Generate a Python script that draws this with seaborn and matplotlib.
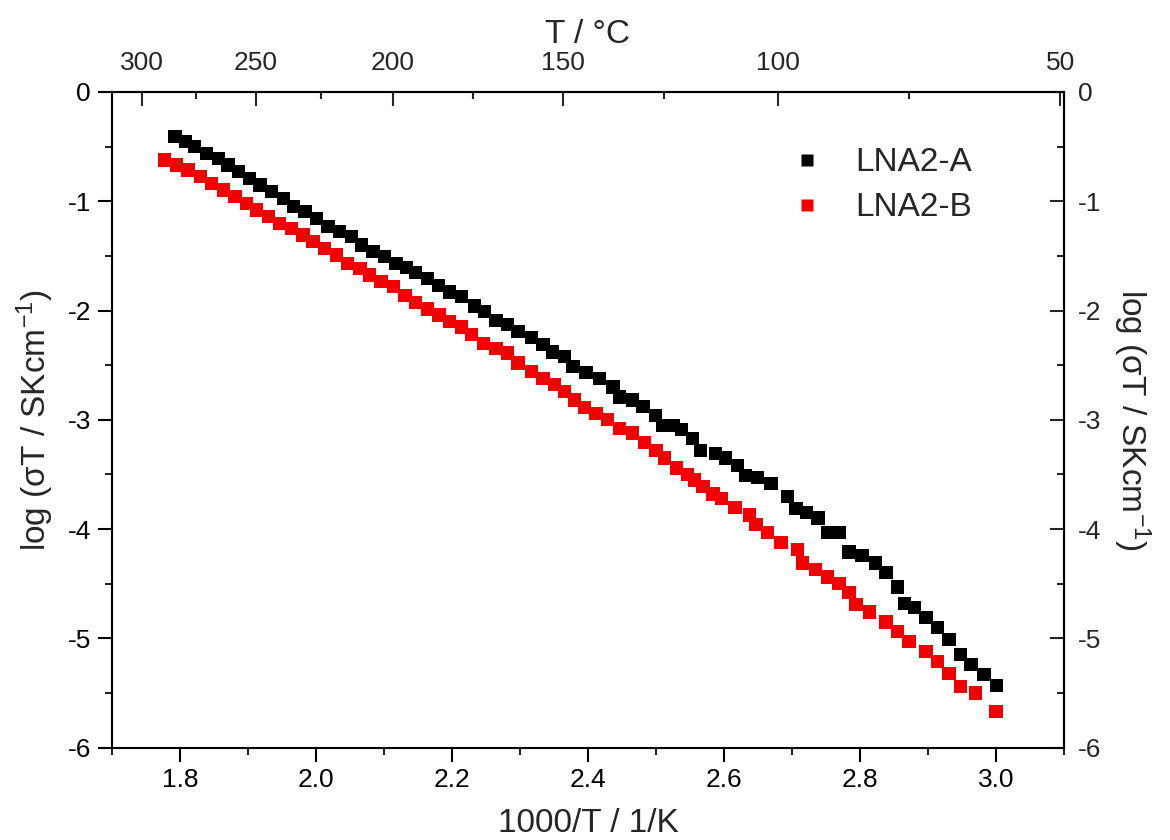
import matplotlib
matplotlib.use("Agg")
import matplotlib.pyplot as plt
from matplotlib.lines import Line2D
from matplotlib.ticker import MultipleLocator, FixedLocator, NullFormatter
import pandas as pd
import seaborn as sns

# Arrhenius data: 1000/T (1/K) and log(sigma*T / S K cm^-1)
inv_t_a = [1.793, 1.808, 1.822, 1.839, 1.857, 1.871, 1.886, 1.903, 1.918,
           1.935, 1.952, 1.967, 1.984, 2.001, 2.018, 2.035, 2.052, 2.067,
           2.084, 2.101, 2.118, 2.133, 2.147, 2.164, 2.180, 2.197, 2.214,
           2.233, 2.248, 2.265, 2.282, 2.297, 2.317, 2.334, 2.348, 2.366,
           2.378, 2.397, 2.417, 2.437, 2.446, 2.466, 2.481, 2.499, 2.510,
           2.525, 2.538, 2.554, 2.565, 2.588, 2.602, 2.620, 2.632, 2.649,
           2.669, 2.693, 2.706, 2.721, 2.738, 2.753, 2.770, 2.784, 2.803,
           2.823, 2.838, 2.855, 2.865, 2.880, 2.897, 2.914, 2.931, 2.948,
           2.963, 2.982, 3.001]
log_st_a = [-0.41, -0.455, -0.50, -0.56, -0.607, -0.668, -0.729, -0.79,
            -0.851, -0.912, -0.973, -1.049, -1.095, -1.156, -1.232, -1.278,
            -1.324, -1.40, -1.461, -1.507, -1.567, -1.605, -1.655, -1.705,
            -1.77, -1.83, -1.87, -1.96, -2.01, -2.09, -2.13, -2.19, -2.25,
            -2.31, -2.38, -2.42, -2.51, -2.57, -2.62, -2.70, -2.79, -2.82,
            -2.88, -2.96, -3.05, -3.05, -3.09, -3.17, -3.28, -3.31, -3.35,
            -3.42, -3.51, -3.53, -3.58, -3.70, -3.81, -3.85, -3.90, -4.03,
            -4.03, -4.21, -4.24, -4.31, -4.40, -4.53, -4.68, -4.72, -4.81,
            -4.90, -5.01, -5.15, -5.24, -5.33, -5.43]
inv_t_b = [1.778, 1.795, 1.812, 1.830, 1.847, 1.864, 1.881, 1.898, 1.913,
           1.930, 1.947, 1.964, 1.981, 1.996, 2.013, 2.030, 2.047, 2.065,
           2.079, 2.096, 2.114, 2.131, 2.147, 2.164, 2.181, 2.197, 2.214,
           2.229, 2.246, 2.265, 2.282, 2.297, 2.317, 2.334, 2.351, 2.366,
           2.380, 2.395, 2.412, 2.429, 2.446, 2.466, 2.483, 2.500, 2.513,
           2.530, 2.546, 2.557, 2.569, 2.584, 2.596, 2.616, 2.638, 2.647,
           2.664, 2.684, 2.708, 2.715, 2.735, 2.752, 2.769, 2.784, 2.794,
           2.814, 2.838, 2.855, 2.872, 2.897, 2.914, 2.931, 2.948, 2.970,
           3.000]
log_st_b = [-0.622, -0.668, -0.714, -0.775, -0.835, -0.897, -0.958, -1.018,
            -1.08, -1.141, -1.201, -1.247, -1.308, -1.37, -1.43, -1.491,
            -1.567, -1.613, -1.674, -1.735, -1.781, -1.865, -1.925, -1.985,
            -2.04, -2.10, -2.15, -2.22, -2.30, -2.35, -2.39, -2.48, -2.56,
            -2.62, -2.68, -2.74, -2.82, -2.89, -2.94, -3.00, -3.08, -3.12,
            -3.21, -3.28, -3.35, -3.44, -3.50, -3.55, -3.61, -3.68, -3.72,
            -3.80, -3.87, -3.96, -4.03, -4.12, -4.19, -4.31, -4.37, -4.44,
            -4.50, -4.58, -4.69, -4.76, -4.85, -4.94, -5.03, -5.12, -5.21,
            -5.32, -5.44, -5.50, -5.67]

series_names = ["LNA2-A", "LNA2-B"]
series_colors = ["#000000", "#f00000"]

celsius_major = [300, 250, 200, 150, 100, 50]
celsius_minor = [275, 225, 175, 125, 75]

sns.set_theme(style="ticks")
plt.rcParams["font.family"] = ["Liberation Sans", "DejaVu Sans"]
plt.rcParams["mathtext.fontset"] = "custom"
plt.rcParams["mathtext.rm"] = "Liberation Sans"
plt.rcParams["mathtext.it"] = "Liberation Sans"
plt.rcParams["axes.linewidth"] = 1.5

df = pd.concat([
    pd.DataFrame({"inv_t": inv_t_a, "log_st": log_st_a, "sample": series_names[0]}),
    pd.DataFrame({"inv_t": inv_t_b, "log_st": log_st_b, "sample": series_names[1]}),
], ignore_index=True)

fig = plt.figure(figsize=(11.7, 8.4), dpi=100)
ax = fig.add_axes([0.0955, 0.110, 0.8140, 0.7805])

sns.scatterplot(data=df, x="inv_t", y="log_st", hue="sample",
                palette=dict(zip(series_names, series_colors)),
                marker="s", s=92, edgecolor="none", linewidth=0,
                legend=False, ax=ax, zorder=3)

ax.set_xlim(1.7, 3.1)
ax.set_ylim(-6, 0)
ax.xaxis.set_major_locator(MultipleLocator(0.2))
ax.xaxis.set_minor_locator(MultipleLocator(0.1))
ax.yaxis.set_major_locator(MultipleLocator(1))
ax.yaxis.set_minor_locator(MultipleLocator(0.5))
ax.xaxis.set_major_formatter(plt.FuncFormatter(lambda v, p: f"{v:.1f}"))
ax.yaxis.set_major_formatter(plt.FuncFormatter(lambda v, p: f"{v:.0f}"))

for side in ("top", "right", "left", "bottom"):
    ax.spines[side].set_visible(True)
    ax.spines[side].set_linewidth(1.5)
    ax.spines[side].set_color("black")

ax.tick_params(axis="both", which="major", direction="out", length=10, width=1.5,
               labelsize=19, colors="black", pad=5)
ax.tick_params(axis="both", which="minor", direction="out", length=5, width=1.5)
ax.tick_params(top=False, right=False)

ax.set_xlabel("1000/T / 1/K", fontsize=24, labelpad=11)
ax.set_ylabel("log (σT / SKcm$^{-1}$)", fontsize=24, labelpad=8)

# Right-hand mirror of the conductivity axis
ax_r = ax.secondary_yaxis("right")
ax_r.yaxis.set_major_locator(MultipleLocator(1))
ax_r.yaxis.set_minor_locator(MultipleLocator(0.5))
ax_r.yaxis.set_major_formatter(plt.FuncFormatter(lambda v, p: f"{v:.0f}"))
ax_r.tick_params(axis="y", which="major", direction="in", length=10, width=1.5,
                 labelsize=19, pad=10)
ax_r.tick_params(axis="y", which="minor", direction="in", length=5, width=1.5)
ax_r.spines["right"].set_linewidth(1.5)
ax_r.set_ylabel("log (σT / SKcm$^{-1}$)", fontsize=24, rotation=-90,
                va="bottom", labelpad=7)

# Temperature scale in degrees Celsius on top
ax_t = ax.secondary_xaxis(
    "top",
    functions=(lambda x: 1000.0 / x - 273.15, lambda t: 1000.0 / (t + 273.15)),
)
ax_t.xaxis.set_major_locator(FixedLocator(celsius_major))
ax_t.xaxis.set_minor_locator(FixedLocator(celsius_minor))
ax_t.xaxis.set_minor_formatter(NullFormatter())
ax_t.xaxis.set_major_formatter(plt.FuncFormatter(lambda v, p: f"{v:.0f}"))
ax_t.tick_params(axis="x", which="major", direction="in", length=10, width=1.5,
                 labelsize=19, pad=12)
ax_t.tick_params(axis="x", which="minor", direction="in", length=5, width=1.5)
ax_t.spines["top"].set_linewidth(1.5)
ax_t.set_xlabel("T / °C", fontsize=24, labelpad=6)

handles = [Line2D([], [], linestyle="none", marker="s", markersize=8.5,
                  markerfacecolor=c, markeredgecolor="none")
           for c in series_colors]
ax.legend(handles, series_names, loc="upper left", bbox_to_anchor=(0.690, 0.936),
          frameon=False, fontsize=24, handletextpad=0.7, labelspacing=0.42,
          handlelength=1.5, borderaxespad=0, borderpad=0.4)

fig.savefig("out.png", dpi=100)
